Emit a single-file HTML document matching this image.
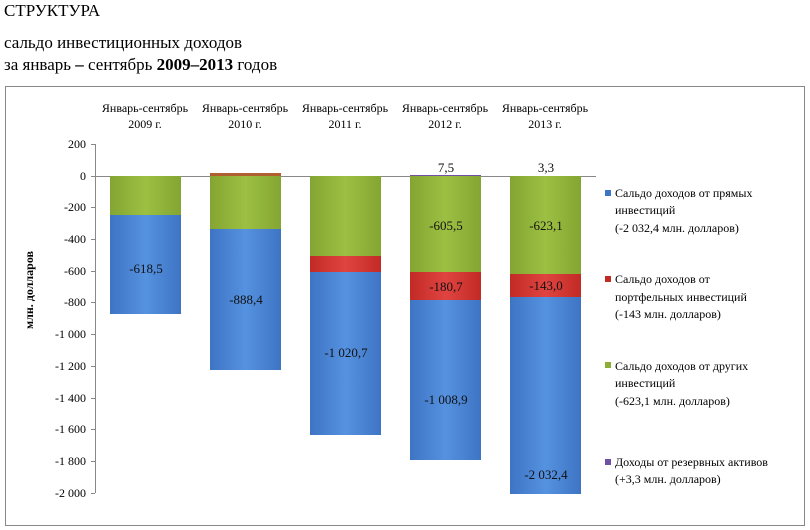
<!DOCTYPE html>
<html><head><meta charset="utf-8"><style>
body{margin:0;width:810px;height:530px;background:#fff;font-family:"Liberation Serif",serif;position:relative;overflow:hidden}
.t{position:absolute;left:4px;font-size:17px;color:#000}
</style></head><body>
<div class="t" style="top:1px">СТРУКТУРА</div>
<div class="t" style="top:33px">сальдо инвестиционных доходов</div>
<div class="t" style="top:55px">за январь <b>–</b> сентябрь <b>2009–2013</b> годов</div>
<svg width="810" height="530" style="position:absolute;left:0;top:0" font-family="Liberation Serif" font-size="12">
<defs>
<linearGradient id="b" x1="0" x2="1"><stop offset="0" stop-color="#3e74c4"/><stop offset=".5" stop-color="#5592e0"/><stop offset="1" stop-color="#3e74c4"/></linearGradient>
<linearGradient id="g" x1="0" x2="1"><stop offset="0" stop-color="#84a532"/><stop offset=".5" stop-color="#9cc042"/><stop offset="1" stop-color="#84a532"/></linearGradient>
<linearGradient id="r" x1="0" x2="1"><stop offset="0" stop-color="#c22a26"/><stop offset=".5" stop-color="#e04440"/><stop offset="1" stop-color="#c22a26"/></linearGradient>
</defs>
<rect x="5.5" y="86.5" width="799" height="439" fill="none" stroke="#888"/>
<g fill="#000" text-anchor="end">
<text x="86" y="148">200</text><text x="86" y="180">0</text><text x="86" y="211">-200</text><text x="86" y="243">-400</text><text x="86" y="275">-600</text><text x="86" y="306">-800</text><text x="86" y="338">-1 000</text><text x="86" y="370">-1 200</text><text x="86" y="402">-1 400</text><text x="86" y="433">-1 600</text><text x="86" y="465">-1 800</text><text x="86" y="497">-2 000</text>
</g>
<line x1="95.5" y1="144" x2="95.5" y2="493" stroke="#888"/>
<line x1="95" y1="176.5" x2="596" y2="176.5" stroke="#888"/>
<g stroke="#888"><line x1="91" y1="144.5" x2="95" y2="144.5"/><line x1="91" y1="176.5" x2="95" y2="176.5"/><line x1="91" y1="207.5" x2="95" y2="207.5"/><line x1="91" y1="239.5" x2="95" y2="239.5"/><line x1="91" y1="271.5" x2="95" y2="271.5"/><line x1="91" y1="302.5" x2="95" y2="302.5"/><line x1="91" y1="334.5" x2="95" y2="334.5"/><line x1="91" y1="366.5" x2="95" y2="366.5"/><line x1="91" y1="398.5" x2="95" y2="398.5"/><line x1="91" y1="429.5" x2="95" y2="429.5"/><line x1="91" y1="461.5" x2="95" y2="461.5"/><line x1="91" y1="493.5" x2="95" y2="493.5"/></g>
<text transform="translate(33,290) rotate(-90)" text-anchor="middle" font-weight="bold" font-size="12">млн. долларов</text>
<g text-anchor="middle">
<text x="145" y="112">Январь-сентябрь</text><text x="145" y="128">2009 г.</text>
<text x="245" y="112">Январь-сентябрь</text><text x="245" y="128">2010 г.</text>
<text x="345" y="112">Январь-сентябрь</text><text x="345" y="128">2011 г.</text>
<text x="445" y="112">Январь-сентябрь</text><text x="445" y="128">2012 г.</text>
<text x="545" y="112">Январь-сентябрь</text><text x="545" y="128">2013 г.</text>
</g>
<rect x="110" y="176" width="71" height="39" fill="url(#g)"/><rect x="110" y="215" width="71" height="99" fill="url(#b)"/>
<rect x="210" y="173" width="71" height="3" fill="#b06030"/><rect x="210" y="176" width="71" height="53" fill="url(#g)"/><rect x="210" y="229" width="71" height="141" fill="url(#b)"/>
<rect x="310" y="176" width="71" height="80" fill="url(#g)"/><rect x="310" y="256" width="71" height="16" fill="url(#r)"/><rect x="310" y="272" width="71" height="163" fill="url(#b)"/>
<rect x="410" y="175" width="71" height="1" fill="#7050a0"/><rect x="410" y="176" width="71" height="96" fill="url(#g)"/><rect x="410" y="272" width="71" height="28" fill="url(#r)"/><rect x="410" y="300" width="71" height="160" fill="url(#b)"/>
<rect x="510" y="176" width="71" height="98" fill="url(#g)"/><rect x="510" y="274" width="71" height="23" fill="url(#r)"/><rect x="510" y="297" width="71" height="197" fill="url(#b)"/>
<g text-anchor="middle" font-size="13" fill="#111">
<text x="146" y="273">-618,5</text><text x="246" y="304">-888,4</text><text x="346" y="357">-1 020,7</text>
<text x="446" y="172">7,5</text><text x="446" y="230">-605,5</text><text x="446" y="291">-180,7</text><text x="446" y="404">-1 008,9</text>
<text x="546" y="172">3,3</text><text x="546" y="230">-623,1</text><text x="546" y="290">-143,0</text><text x="546" y="479">-2 032,4</text>
</g>
<rect x="605" y="190" width="6" height="6" fill="#3e74c4"/>
<rect x="605" y="276" width="6" height="6" fill="#c22a26"/>
<rect x="605" y="362" width="6" height="6" fill="#8aae38"/>
<rect x="605" y="459" width="6" height="6" fill="#7050a0"/>
<g font-size="12">
<text x="615" y="197">Сальдо доходов от прямых</text><text x="615" y="214">инвестиций</text><text x="615" y="232">(-2 032,4 млн. долларов)</text>
<text x="615" y="283">Сальдо доходов от</text><text x="615" y="301">портфельных инвестиций</text><text x="615" y="318">(-143 млн. долларов)</text>
<text x="615" y="370">Сальдо доходов от других</text><text x="615" y="387">инвестиций</text><text x="615" y="405">(-623,1 млн. долларов)</text>
<text x="615" y="466">Доходы от резервных активов</text><text x="615" y="483">(+3,3 млн. долларов)</text>
</g>
</svg>
</body></html>
